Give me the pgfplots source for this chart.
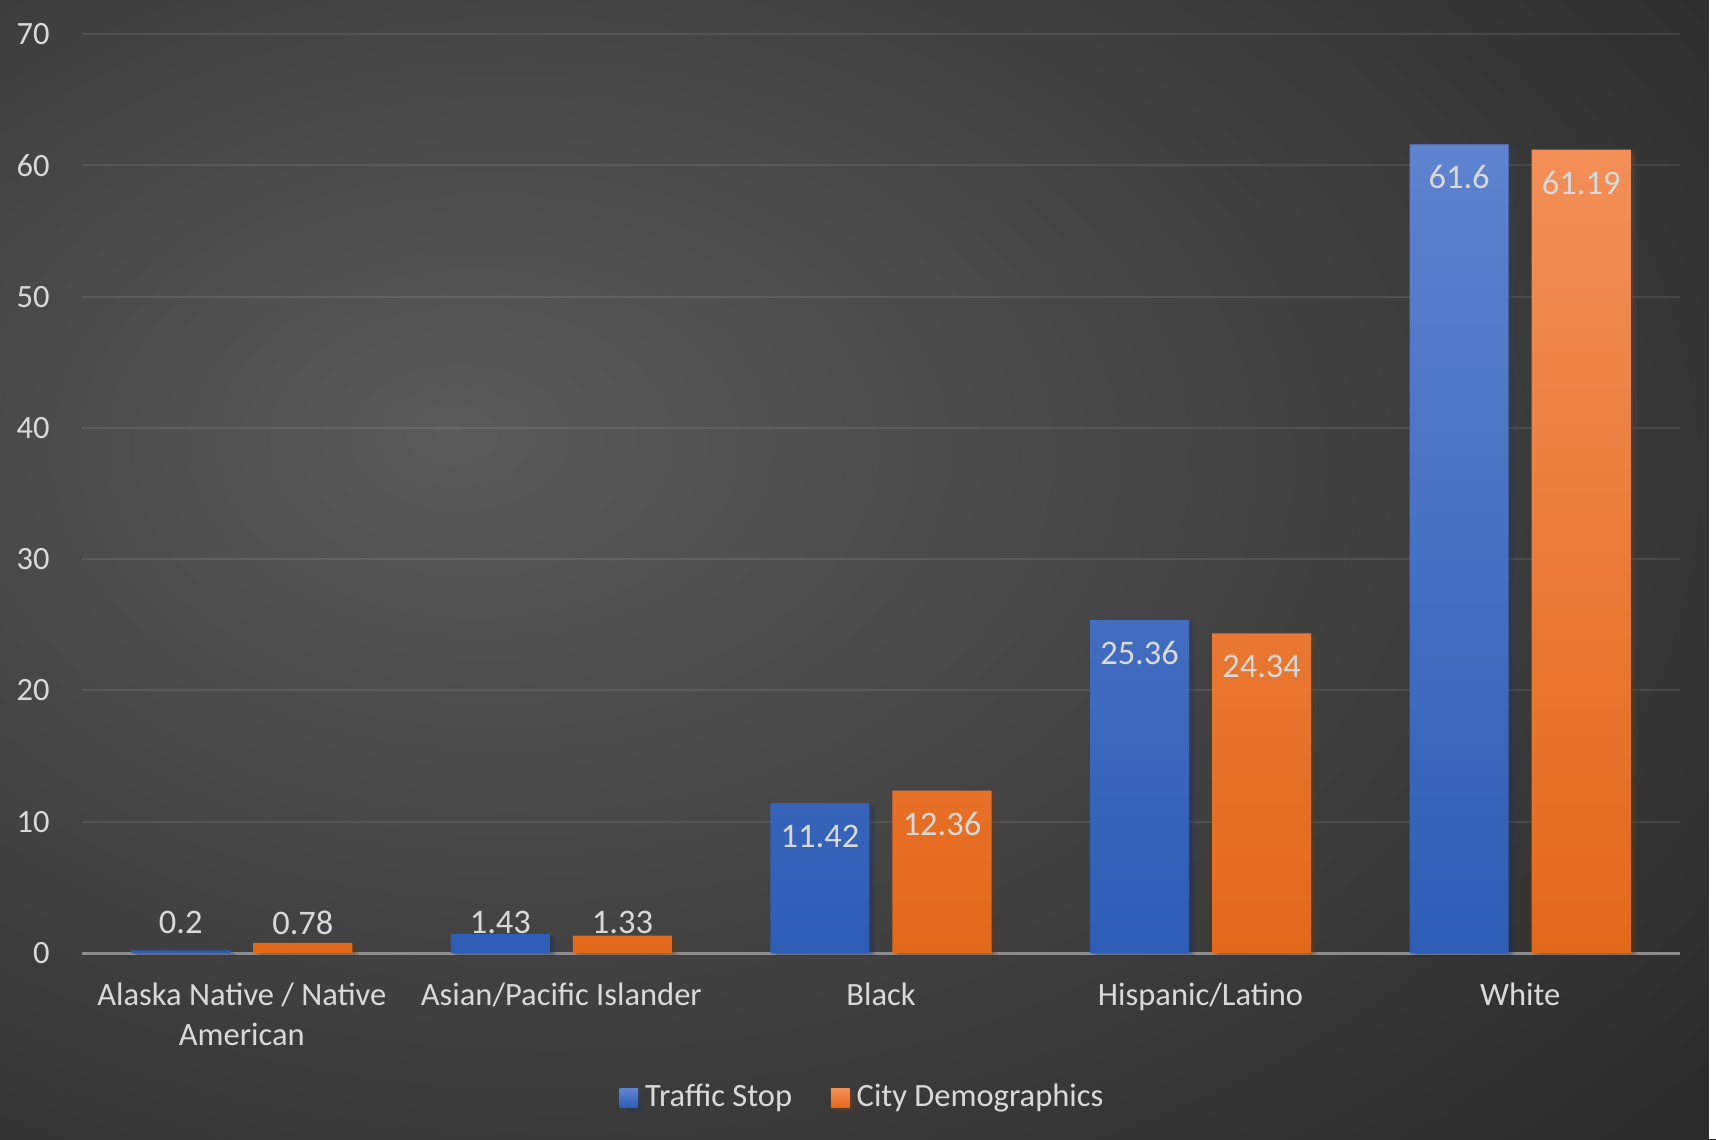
\documentclass[border=0pt]{standalone}
\usepackage{pgfplots}
\pgfplotsset{compat=1.18}
\usepackage{fontspec}
\setmainfont{Carlito}
\definecolor{bgin}{HTML}{5A5A5A}
\definecolor{bgmid}{HTML}{464646}
\definecolor{bgedge}{HTML}{2C2C2C}
\definecolor{bgout}{HTML}{262626}
\definecolor{lbl}{HTML}{D9D9D9}
\definecolor{btop}{HTML}{5E83CF}
\definecolor{bbot}{HTML}{2E5DB6}
\definecolor{otop}{HTML}{F28F57}
\definecolor{obot}{HTML}{E4681A}
\definecolor{axgray}{HTML}{8C8C8C}
\pgfdeclareradialshading{bgshade}{\pgfpoint{-12bp}{6bp}}{color(0bp)=(bgin); color(18bp)=(bgmid); color(41bp)=(bgedge); color(54bp)=(bgout); color(100bp)=(bgout)}
\begin{document}
\begin{tikzpicture}
\useasboundingbox (0,0) rectangle (17.16cm,11.39cm);
\shade[shading=bgshade] (0,0) rectangle (17.16cm,11.39cm);
\fill[white] (17.09cm,0) rectangle (17.16cm,11.39cm);
\begin{axis}[
  at={(0.82cm,1.86cm)}, anchor=south west,
  scale only axis, width=15.98cm, height=9.19cm,
  ymin=0, ymax=70, ytick={0,10,...,70},
  xmin=-0.5, xmax=4.5, xtick={0,...,4},
  xticklabels={{Alaska Native / Native\\American},{Asian/Pacific Islander},{Black},{Hispanic/Latino},{White}},
  axis x line*=bottom, axis y line*=left,
  x axis line style={-, draw=axgray, line width=0.03cm},
  y axis line style={draw=none},
  major tick length=0pt,
  ymajorgrids, grid style={draw=white, opacity=0.09, line width=0.02cm},
  tick label style={text=lbl, font=\fontsize{9.25}{11.3}\selectfont},
  /pgf/number format/assume math mode=true,
  xticklabel style={align=center, yshift=-0.175cm},
  yticklabel style={xshift=-0.2cm},
  ybar=0.23cm, bar width=0.31,
  clip=false,
  nodes near coords,
  visualization depends on={y \as \rawy},
  every node near coord/.append style={text=lbl, font=\fontsize{9.8}{11}\selectfont, anchor=center, yshift={max(-9.39,(2.29-\rawy)*3.736)}},
  legend style={at={(0.49,-0.158)}, anchor=center, draw=none, fill=none, text=lbl, font=\fontsize{9.25}{11}\selectfont, legend columns=2, /tikz/every even column/.append style={column sep=0.32cm}},
  sqlegend/.style={legend image code/.code={\path[##1,draw=none] (0cm,-0.093cm) rectangle (0.185cm,0.093cm);}},
  barshadow/.style={preaction={fill=black, fill opacity=0.13, transform canvas={xshift=0.03cm, yshift=-0.015cm}}, preaction={fill=black, fill opacity=0.10, transform canvas={xshift=0.06cm, yshift=-0.03cm}}},
]
\addplot[draw=none, barshadow, top color=btop, bottom color=bbot, sqlegend] coordinates {(0,0.2) (1,1.43) (2,11.42) (3,25.36) (4,61.6)};
\addlegendentry{Traffic Stop}
\addplot[draw=none, barshadow, top color=otop, bottom color=obot, sqlegend] coordinates {(0,0.78) (1,1.33) (2,12.36) (3,24.34) (4,61.19)};
\addlegendentry{City Demographics}
\end{axis}
\end{tikzpicture}
\end{document}
